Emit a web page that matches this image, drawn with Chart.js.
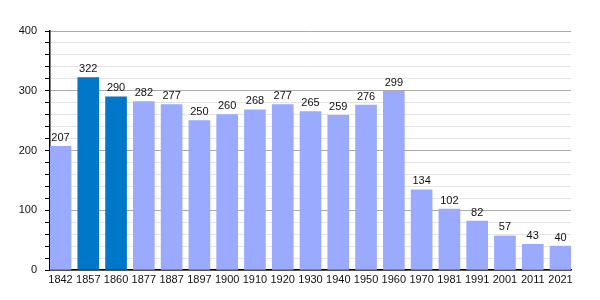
<!DOCTYPE html>
<html lang="fr">
<head>
  <meta charset="UTF-8">
  <title>Population</title>
  <script src="https://cdn.jsdelivr.net/npm/chart.js"></script>
  <style>
    html, body { margin: 0; padding: 0; background: #fff; }
    #wrap { width: 600px; height: 300px; }
  </style>
</head>
<body>
  <div id="wrap"><canvas id="popChart"></canvas></div>

  <script>
    // Données (années et habitants)
    const years = ['1842', '1857', '1860', '1877', '1887', '1897', '1900', '1910', '1920', '1930',
                   '1940', '1950', '1960', '1970', '1981', '1991', '2001', '2011', '2021'];
    const population = [207, 322, 290, 282, 277, 250, 260, 268, 277, 265,
                        259, 276, 299, 134, 102, 82, 57, 43, 40];
    const highlighted = ['1857', '1860'];
    const yMax = 400;

    const lightBar = '#99aaff';
    const darkBar = '#0077c8';
    const font = '"Liberation Sans", Arial, sans-serif';

    // Valeurs au-dessus des barres
    const valueLabels = {
      id: 'valueLabels',
      afterDatasetsDraw(chart) {
        const c = chart.ctx;
        const meta = chart.getDatasetMeta(0);
        c.save();
        c.font = '11px ' + font;
        c.fillStyle = '#111';
        c.textAlign = 'center';
        c.textBaseline = 'bottom';
        meta.data.forEach((bar, i) => {
          c.fillText(population[i], bar.x, bar.y - 3);
        });
        c.restore();
      }
    };

    // barres collées aux bords de la zone (axe linéaire indexé)
    const edge = 0.378;

    const ctx = document.getElementById('popChart').getContext('2d');
    new Chart(ctx, {
      type: 'bar',
      data: {
        datasets: [{
          data: population.map((v, i) => ({ x: i, y: v })),
          backgroundColor: years.map(y => highlighted.includes(y) ? darkBar : lightBar),
          borderWidth: 0,
          barThickness: 21
        }]
      },
      options: {
        responsive: true,
        maintainAspectRatio: false,
        animation: false,
        layout: { padding: { left: 0, right: 29, top: 31, bottom: 0 } },
        plugins: {
          legend: { display: false },
          tooltip: { enabled: false }
        },
        scales: {
          x: {
            type: 'linear',
            offset: false,
            min: -edge,
            max: years.length - 1 + edge,
            grid: { display: false, drawTicks: false },
            border: { color: '#000', width: 1.5 },
            afterBuildTicks(scale) {
              scale.ticks = years.map((_, i) => ({ value: i }));
            },
            ticks: {
              color: '#111',
              font: { family: font, size: 11 },
              padding: 3,
              maxRotation: 0,
              autoSkip: false,
              callback: v => years[v]
            },
            afterFit(scale) { scale.height = 30; }
          },
          y: {
            min: 0,
            max: yMax,
            border: { color: '#000', width: 1.5 },
            grid: {
              color: c => (c.tick && c.tick.value % 100 === 0) ? '#aaaaaa' : '#e4e4e4',
              tickColor: '#000',
              tickLength: 5,
              lineWidth: 1
            },
            ticks: {
              stepSize: 20,
              autoSkip: false,
              color: '#111',
              font: { family: font, size: 11 },
              padding: 8,
              callback: v => (v % 100 === 0 ? v : '')
            },
            afterFit(scale) { scale.width = 50; }
          }
        }
      },
      plugins: [valueLabels]
    });
  </script>
</body>
</html>
